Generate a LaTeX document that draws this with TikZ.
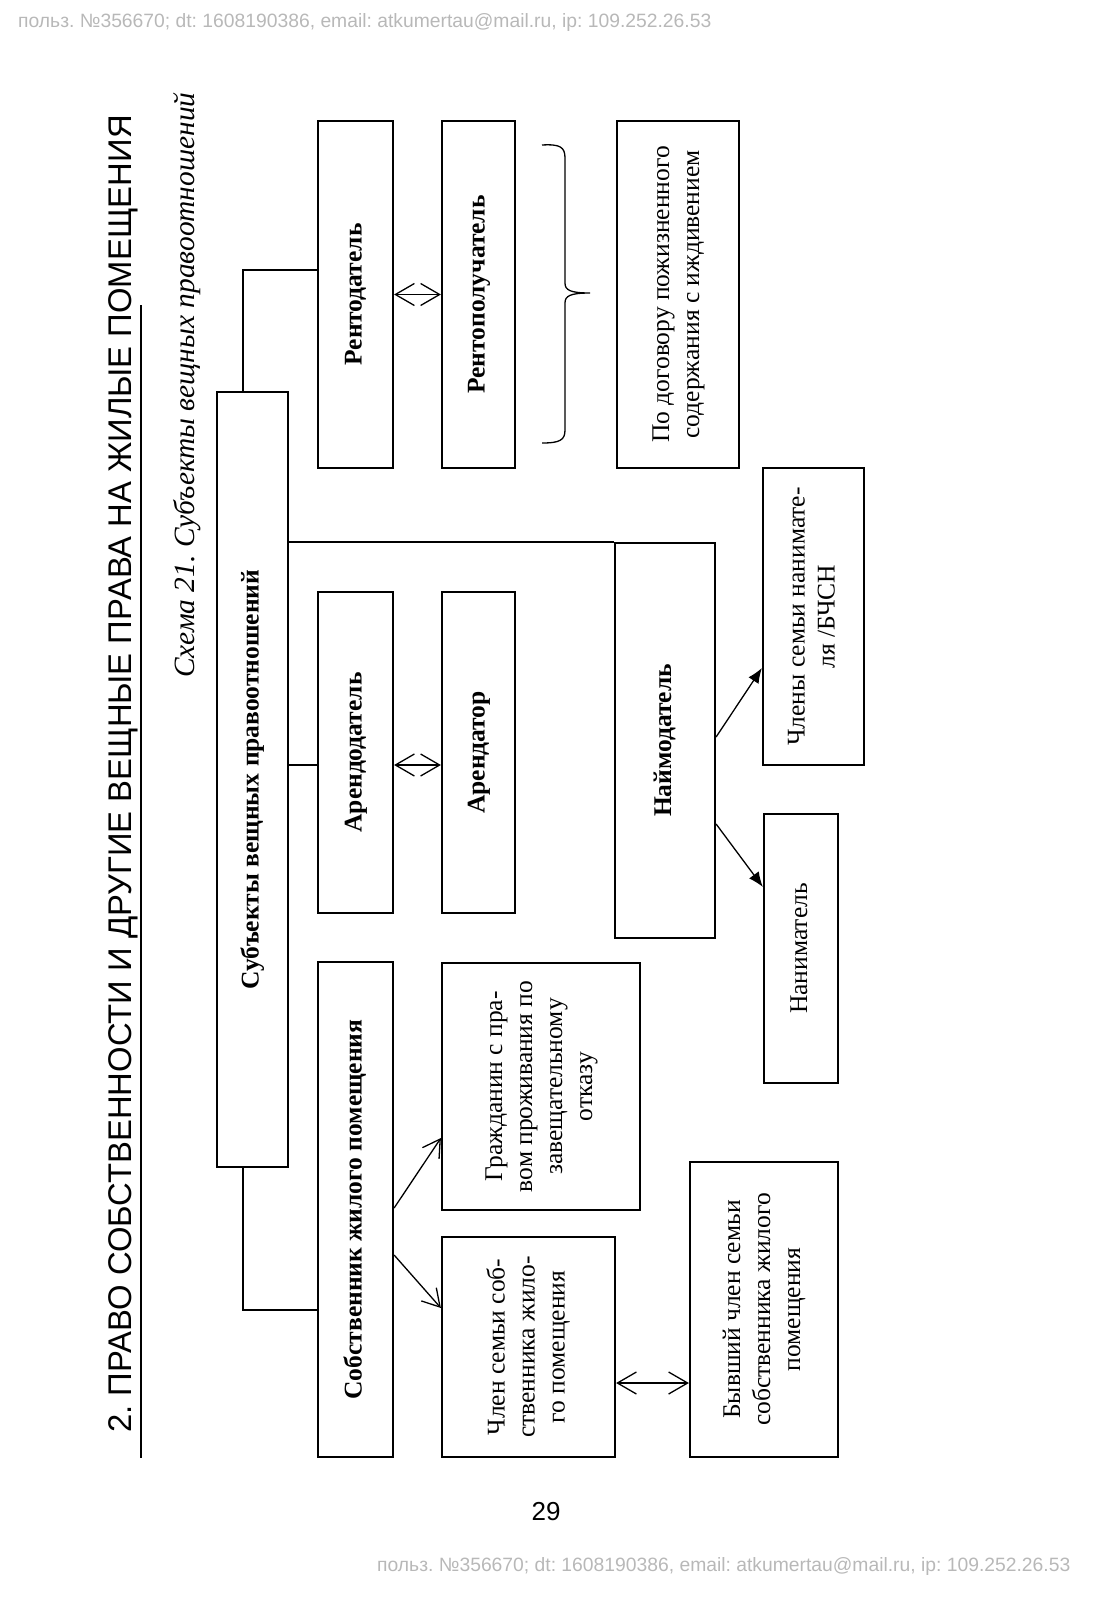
\documentclass[tikz,border=0pt]{standalone}
\usepackage{fontspec}
\setmainfont{Liberation Serif}
\newfontfamily\hdrfont{Liberation Sans}
\usetikzlibrary{arrows.meta,calc}
\frenchspacing
\newcommand{\vtext}[1]{\rotatebox{90}{\begin{tabular}{@{}c@{}}#1\end{tabular}}}
\tikzset{
  box/.style={draw, line width=2.2pt, rectangle, inner sep=0pt, font=\fontsize{25.5}{30}\selectfont},
  conn/.style={line width=1.3pt},
  dbl/.style={conn, {Straight Barb[length=19pt,width=22pt]}-{Straight Barb[length=19pt,width=22pt]}},
  opena/.style={conn, -{Straight Barb[length=17pt,width=20pt]}},
  filla/.style={conn, -{Latex[length=15pt,width=12pt]}},
  wmark/.style={anchor=west, inner sep=0pt, text=black!28, font=\hdrfont\fontsize{19.3}{19.3}\selectfont},
}
\begin{document}
\begin{tikzpicture}[x=1pt,y=-1pt]
\useasboundingbox (0,0) rectangle (1093,1600);

% watermarks
\node[wmark] (wm1) at (18,22.5) {польз. №356670; dt: 1608190386, email: atkumertau@mail.ru, ip: 109.252.26.53};
\node[wmark] (wm2) at (377,1566) {польз. №356670; dt: 1608190386, email: atkumertau@mail.ru, ip: 109.252.26.53};

% header
\node[rotate=90, anchor=base west, inner sep=0pt, font=\hdrfont\fontsize{32.8}{32.8}\selectfont] (title) at (131,1433)
  {2. ПРАВО СОБСТВЕННОСТИ И ДРУГИЕ ВЕЩНЫЕ ПРАВА НА ЖИЛЫЕ ПОМЕЩЕНИЯ};
\draw[line width=1.3pt] (141,305) -- (141,1458);

% caption
\node[rotate=90, anchor=base west, inner sep=0pt, font=\itshape\fontsize{29.4}{29.4}\selectfont] (cap) at (194,678)
  {Схема 21. Субъекты вещных правоотношений};

% page number
\node[inner sep=0pt, font=\hdrfont\fontsize{26}{26}\selectfont] (pg) at (546,1512) {29};

% boxes
\node[box, minimum width=71pt, minimum height=775pt] (subj) at (252.5,779.5) {\vtext{\textbf{Субъекты вещных правоотношений}}};
\node[box, minimum width=75pt, minimum height=347pt] (rd) at (355.5,294.5) {\vtext{\textbf{Рентодатель}}};
\node[box, minimum width=73pt, minimum height=347pt] (rp) at (478.5,294.5) {\vtext{\textbf{Рентополучатель}}};
\node[box, minimum width=122pt, minimum height=347pt] (dog) at (678,294.5) {\vtext{По договору пожизненного\\содержания с иждивением}};
\node[box, minimum width=75pt, minimum height=321pt] (ad) at (355.5,752.5) {\vtext{\textbf{Арендодатель}}};
\node[box, minimum width=73pt, minimum height=321pt] (ar) at (478.5,752.5) {\vtext{\textbf{Арендатор}}};
\node[box, minimum width=100pt, minimum height=395pt] (nd) at (665,740.5) {\vtext{\textbf{Наймодатель}}};
\node[box, minimum width=101pt, minimum height=297pt] (chl) at (813.5,616.5) {\vtext{Члены семьи нанимате-\\ля /БЧСН}};
\node[box, minimum width=74pt, minimum height=269pt] (nan) at (801,948.5) {\vtext{Наниматель}};
\node[box, minimum width=75pt, minimum height=495pt] (sob) at (355.5,1209.5) {\vtext{\textbf{Собственник жилого помещения}}};
\node[box, minimum width=198pt, minimum height=247pt] (gr) at (541,1086.5) {\vtext{Гражданин с пра-\\вом проживания по\\завещательному\\отказу}};
\node[box, minimum width=173pt, minimum height=220pt] (chs) at (528.5,1347) {\vtext{Член семьи соб-\\ственника жило-\\го помещения}};
\node[box, minimum width=148pt, minimum height=295pt] (byv) at (764,1309.5) {\vtext{Бывший член семьи\\собственника жилого\\помещения}};

% connectors
\draw[conn] ([xshift=27pt]subj.north west) |- ([yshift=24.5pt]rd.west);
\draw[conn] (subj.east |- nd.north west) -- (nd.north west);
\coordinate (adc) at ([yshift=-12.5pt]ad.west);
\draw[conn] (subj.east |- adc) -- (adc);
\draw[conn] ([xshift=27pt]subj.south west) |- ([yshift=-100.5pt]sob.west);

\draw[dbl] (rd.east) -- (rp.west);
\draw[dbl] (adc -| ad.east) -- (adc -| ar.west);
\coordinate (cb) at ([yshift=-36pt]chs.east);
\draw[dbl] (cb) -- (cb -| byv.west);

\draw[opena] ([yshift=1.5pt]sob.east) -- ([yshift=-51.5pt]gr.west);
\draw[opena] ([yshift=-45.5pt]sob.east) -- ([yshift=39pt]chs.west);

\draw[filla] ([yshift=3.5pt]nd.east) -- ([yshift=-51.5pt]chl.west);
\draw[filla] ([yshift=-83.5pt]nd.east) -- ([yshift=61.5pt]nan.west);

% brace
\draw[conn] (542,145) .. controls (560,144) and (565,147) .. (565,158) -- (565,283)
  .. controls (565,290) and (570,293) .. (590,293)
  .. controls (570,293) and (565,296) .. (565,303) -- (565,430)
  .. controls (565,440) and (560,443) .. (542,443);
\end{tikzpicture}
\end{document}
